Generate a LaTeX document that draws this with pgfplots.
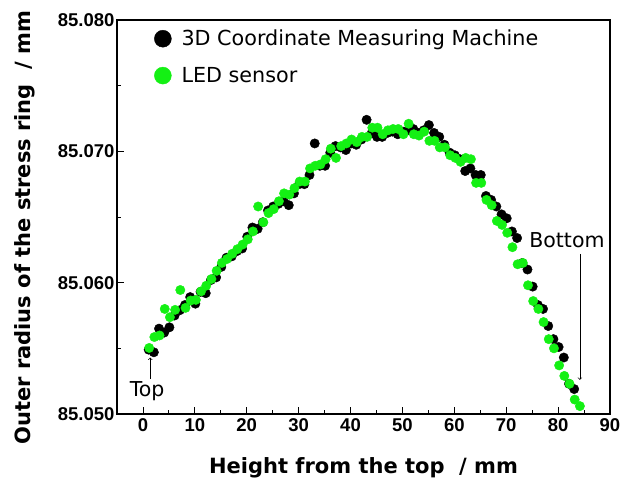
\documentclass[border=0pt]{standalone}
\usepackage{pgfplots}
\pgfplotsset{compat=1.18}
\usepackage{fontspec}
\setmainfont{Liberation Sans}
\newfontfamily\dejavu{DejaVu Sans}
\definecolor{ledgreen}{RGB}{20,240,20}

\pgfplotstableread{
x y
1.1 85.0549
2.1 85.0547
3.1 85.0565
4.1 85.0562
5.1 85.0566
6.1 85.0575
7.1 85.0579
8.1 85.0583
9.1 85.0589
10.1 85.0584
11.1 85.0593
12.1 85.0592
13.1 85.0602
14.1 85.0604
15.1 85.0612
16.1 85.0619
17.1 85.0620
18.1 85.0624
19.1 85.0626
20.1 85.0635
21.1 85.0642
22.1 85.0641
23.1 85.0646
24.1 85.0655
25.1 85.0658
26.1 85.0660
27.1 85.0662
28.1 85.0659
29.1 85.0668
30.1 85.0675
31.1 85.0675
32.1 85.0682
33.1 85.0706
34.1 85.0689
35.1 85.0689
36.1 85.0699
37.1 85.0704
38.1 85.0703
39.1 85.0701
40.1 85.0706
41.1 85.0705
42.1 85.0709
43.1 85.0724
44.1 85.0714
45.1 85.0711
46.1 85.0711
47.1 85.0714
48.1 85.0715
49.1 85.0713
50.1 85.0715
51.1 85.0716
52.1 85.0717
53.1 85.0714
54.1 85.0716
55.1 85.0720
56.1 85.0714
57.1 85.0711
58.1 85.0705
59.1 85.0699
60.1 85.0697
61.1 85.0694
62.1 85.0685
63.1 85.0687
64.1 85.0682
65.1 85.0682
66.1 85.0666
67.1 85.0663
68.1 85.0658
69.1 85.0652
70.1 85.0649
71.1 85.0639
72.1 85.0634
73.1 85.0615
74.1 85.0610
75.1 85.0597
76.1 85.0583
77.1 85.0580
78.1 85.0567
79.1 85.0557
80.1 85.0551
81.1 85.0543
82.1 85.0523
83.1 85.0519
}\cmmdata

\pgfplotstableread{
x y
1.2 85.05503
2.2 85.05586
3.2 85.05598
4.2 85.05800
5.2 85.05737
6.2 85.05793
7.2 85.05944
8.2 85.05808
9.2 85.05864
10.2 85.05869
11.2 85.05934
12.2 85.05977
13.2 85.06028
14.2 85.06090
15.2 85.06150
16.2 85.06180
17.2 85.06220
18.2 85.06255
19.2 85.06290
20.2 85.06330
21.2 85.06390
22.2 85.06580
23.2 85.06460
24.2 85.06530
25.2 85.06560
26.2 85.06620
27.2 85.06680
28.2 85.06670
29.2 85.06720
30.2 85.06770
31.2 85.06770
32.2 85.06870
33.2 85.06890
34.2 85.06900
35.2 85.06940
36.2 85.07020
37.2 85.06950
38.2 85.07040
39.2 85.07060
40.2 85.07090
41.2 85.07070
42.2 85.07110
43.2 85.07110
44.2 85.07180
45.2 85.07180
46.2 85.07130
47.2 85.07160
48.2 85.07170
49.2 85.07170
50.2 85.07130
51.2 85.07210
52.2 85.07130
53.2 85.07120
54.2 85.07150
55.2 85.07080
56.2 85.07080
57.2 85.07030
58.2 85.07030
59.2 85.06970
60.2 85.06950
61.2 85.06920
62.2 85.06950
63.2 85.06940
64.2 85.06760
65.2 85.06760
66.2 85.06630
67.2 85.06590
68.2 85.06470
69.2 85.06440
70.2 85.06380
71.2 85.06270
72.2 85.06140
73.2 85.06150
74.2 85.05980
75.2 85.05860
76.2 85.05800
77.2 85.05700
78.2 85.05570
79.2 85.05500
80.2 85.05370
81.2 85.05290
82.2 85.05230
83.2 85.05110
84.2 85.05060
}\leddata

\begin{document}
\begin{tikzpicture}
\begin{axis}[
  scale only axis,
  width=493pt, height=394pt,
  xmin=-5, xmax=90,
  ymin=85.050, ymax=85.080,
  xtick={0,10,...,90},
  ytick={85.050,85.060,85.070,85.080},
  yticklabels={85.050,85.060,85.070,85.080},
  /pgf/number format/assume math mode=true,
  minor x tick num=1,
  minor y tick num=1,
  tick align=inside,
  tick pos=left,
  major tick length=7pt,
  minor tick length=4pt,
  axis line style={line width=1.6pt},
  every tick/.style={black, line width=0.8pt},
  tick label style={font=\fontsize{18.5}{22}\selectfont\bfseries},
  yticklabel style={xshift=1pt},
  xticklabel style={yshift=-1pt},
  label style={font=\dejavu\fontsize{21}{25}\selectfont\bfseries},
  xlabel={Height from the top\ \ / mm},
  ylabel={Outer radius of the stress ring\ \ / mm},
  xlabel style={at={(axis description cs:0.5,-0.137)}, anchor=center},
  ylabel style={at={(axis description cs:-0.187,0.473)}, anchor=center},
  legend style={draw=none, fill=none, at={(axis description cs:0.075,0.98)}, anchor=north west,
    font=\dejavu\fontsize{20.7}{24}\selectfont, row sep=16pt,
    inner sep=0pt,
    /tikz/every odd column/.style={column sep=8pt},
    legend cell align=left},
  legend image code/.code={\fill[#1] (0.15cm,0cm) circle (8.5pt);},
]
\addplot[only marks, mark=*, mark size=4.7pt, mark options={draw=black, fill=black}, color=black] table[x=x, y=y] {\cmmdata};
\addlegendentry{3D Coordinate Measuring Machine}
\addplot[only marks, mark=*, mark size=4.7pt, mark options={draw=ledgreen, fill=ledgreen}, color=ledgreen] table[x=x, y=y] {\leddata};
\addlegendentry{LED sensor}

\draw[->, line width=0.7pt] (axis cs:1.4,85.0527) -- (axis cs:1.4,85.0543);
\node[font=\dejavu\fontsize{20.5}{24}\selectfont] at (axis cs:0.8,85.05174) {Top};
\draw[->, line width=0.7pt] (axis cs:84.2,85.0622) -- (axis cs:84.2,85.0526);
\node[font=\dejavu\fontsize{20.5}{24}\selectfont] at (axis cs:81.7,85.0632) {Bottom};
\end{axis}
\pgfresetboundingbox
\useasboundingbox (current axis.south west) ++(-117pt,-72pt) rectangle ++(634pt,486pt);
\end{tikzpicture}
\end{document}
